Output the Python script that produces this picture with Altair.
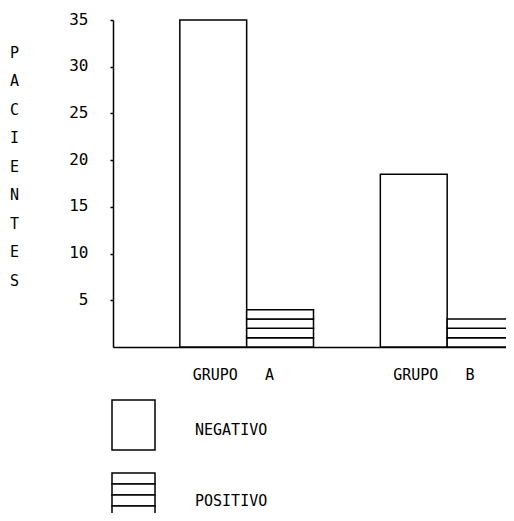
import altair as alt
import pandas as pd
import math

# ---- data ----
groups = ["GRUPO\u00a0\u00a0\u00a0A", "GRUPO\u00a0\u00a0\u00a0B"]
types = ["NEGATIVO", "POSITIVO"]
negativo = [35, 18.5]
positivo = [4, 3]
y_ticks = [5, 10, 15, 20, 25, 30, 35]
y_title = ["P", "A", "C", "I", "E", "N", "T", "E", "S"]
legend_labels = ["NEGATIVO", "POSITIVO"]

FONT = "DejaVu Sans Mono"

# bars: negative bars are single rects; positive bars are drawn as unit
# segments so that the horizontal hatching of the original appears
rows = []
for g, v in zip(groups, negativo):
    rows.append({"grupo": g, "tipo": "NEGATIVO", "y0": 0, "y1": v})
for g, v in zip(groups, positivo):
    for k in range(math.ceil(v)):
        rows.append({"grupo": g, "tipo": "POSITIVO", "y0": k, "y1": min(k + 1, v)})
bars_df = pd.DataFrame(rows)

x_enc = alt.X(
    "grupo:N",
    sort=groups,
    scale=alt.Scale(domain=groups, paddingInner=1 / 3, paddingOuter=1 / 6, align=1),
    axis=alt.Axis(
        title=None, ticks=False, labelAngle=0, labelAlign="left", labelOffset=-54,
        labelPadding=20, labelFont=FONT, labelFontSize=15, labelColor="black",
        domainColor="black", domainWidth=1.5, grid=False,
    ),
)
xoff_enc = alt.XOffset(
    "tipo:N", sort=types,
    scale=alt.Scale(domain=types, paddingInner=0, paddingOuter=0),
)

bars = alt.Chart(bars_df).mark_bar(
    fill="white", stroke="black", strokeWidth=1.5
).encode(
    x=x_enc,
    xOffset=xoff_enc,
    y=alt.Y(
        "y0:Q",
        scale=alt.Scale(domain=[0, 35], nice=False),
        axis=alt.Axis(
            values=y_ticks, grid=False, tickSize=3, tickColor="black", tickWidth=1.5,
            domainColor="black", domainWidth=1.5,
            labelFont=FONT, labelFontSize=16, labelColor="black",
            labelPadding=22, labelOffset=-1,
            title=y_title, titleAngle=0, titleX=-99, titleY=37,
            titleBaseline="alphabetic", titleAlign="center", titleLineHeight=28.5,
            titleFont=FONT, titleFontSize=15, titleFontWeight="normal",
            titleColor="black",
        ),
    ),
    y2="y1:Q",
)

# ---- hand-drawn legend below the plot ----
leg_df = pd.DataFrame({"label": legend_labels})
layers = [bars]

neg_box = alt.Chart(leg_df.iloc[[0]]).mark_rect(
    fill="white", stroke="black", strokeWidth=1.5
).encode(x=alt.value(-1), x2=alt.value(42), y=alt.value(380), y2=alt.value(430))
layers.append(neg_box)

for k in range(5):
    seg = alt.Chart(leg_df.iloc[[1]]).mark_rect(
        fill="white", stroke="black", strokeWidth=1.5
    ).encode(x=alt.value(-1), x2=alt.value(42),
             y=alt.value(453 + 11 * k), y2=alt.value(464 + 11 * k))
    layers.append(seg)

for i, yy in enumerate([410, 481]):
    txt = alt.Chart(leg_df.iloc[[i]]).mark_text(
        font=FONT, fontSize=15, color="black", align="left", baseline="middle"
    ).encode(x=alt.value(82), y=alt.value(yy), text="label:N")
    layers.append(txt)

chart = alt.layer(*layers).properties(
    width=401,
    height=327,
    padding={"left": 105, "top": 12, "right": -8, "bottom": 166},
    autosize=alt.AutoSizeParams(type="none"),
    background="white",
).configure_view(strokeWidth=0)

chart.save("out.html", embed_options={"renderer": "svg", "actions": False})
